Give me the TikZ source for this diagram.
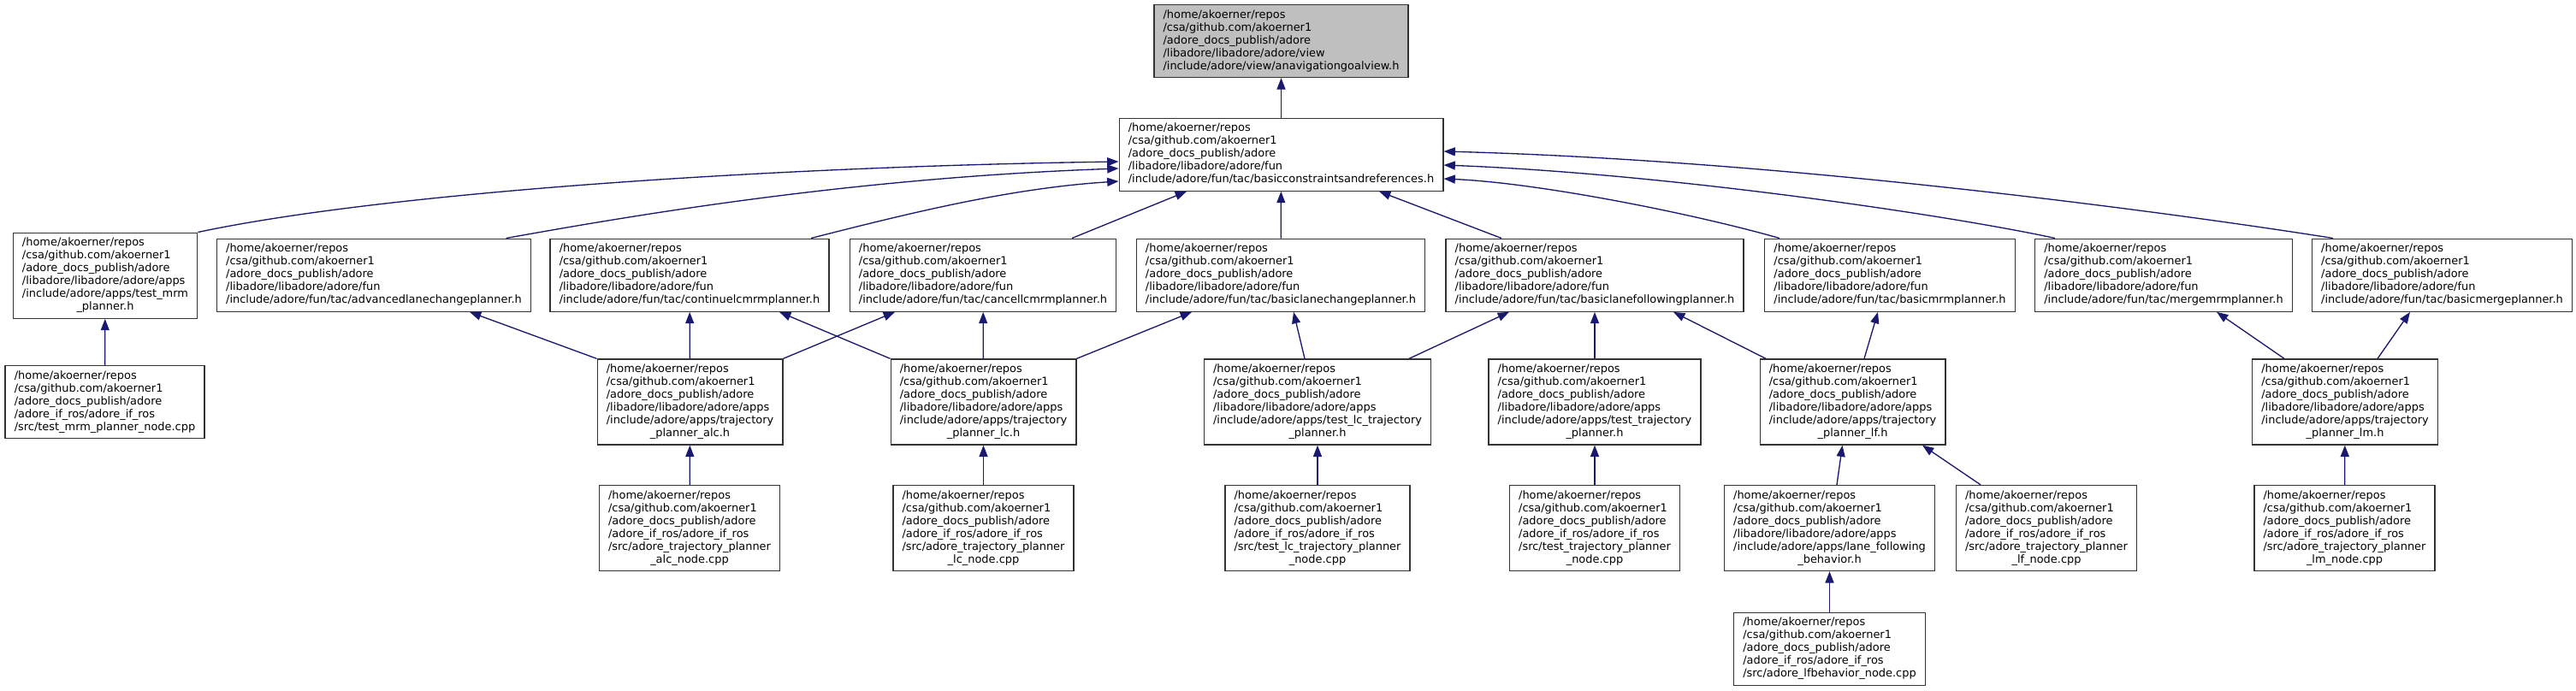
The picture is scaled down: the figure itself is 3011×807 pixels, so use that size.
\documentclass[tikz,border=0pt]{standalone}
\usepackage{fontspec}
\setmainfont{DejaVu Sans}
\usetikzlibrary{arrows.meta}
\definecolor{edgeblue}{HTML}{191970}
\definecolor{rootgray}{HTML}{BFBFBF}
\newcommand{\repohead}{/home/akoerner/repos\\/csa/github.com/akoerner1\\/adore\_docs\_publish/adore}
\newcommand{\fpath}[1]{\begin{tabular}{@{}l@{}}\repohead\\#1\end{tabular}}
\newcommand{\tailline}[1]{\multicolumn{1}{@{}c@{}}{#1}}
\begin{document}
\begin{tikzpicture}[x=0.75pt,y=-0.75pt]

	\tikzset{
	  fbox/.style={
		draw=black!80,
		line width=1pt,
		fill=white,
		inner xsep=8pt,
		inner ysep=3.75pt,
		font=\fontsize{9.7}{11.25}\selectfont,
	  },
	  rootbox/.style={fbox, fill=rootgray},
	  inc/.style={edgeblue, line width=1pt, -{Triangle[length=10pt,width=7.5pt]}},
	}
	\useasboundingbox (0,0) rectangle (3011,807);

	\node[rootbox] (T) at (1497.5,48) {\fpath{/libadore/libadore/adore/view\\/include/adore/view/anavigationgoalview.h}};
	\node[fbox] (B) at (1497.5,180.7) {\fpath{/libadore/libadore/adore/fun\\/include/adore/fun/tac/basicconstraintsandreferences.h}};

	% headers that use it
	\node[fbox] (A1) at (123,322.2) {\fpath{/libadore/libadore/adore/apps\\/include/adore/apps/test\_mrm\\\tailline{\_planner.h}}};
	\node[fbox] (A2) at (437,321.7) {\fpath{/libadore/libadore/adore/fun\\/include/adore/fun/tac/advancedlanechangeplanner.h}};
	\node[fbox] (A3) at (806,321.7) {\fpath{/libadore/libadore/adore/fun\\/include/adore/fun/tac/continuelcmrmplanner.h}};
	\node[fbox] (A4) at (1149,321.7) {\fpath{/libadore/libadore/adore/fun\\/include/adore/fun/tac/cancellcmrmplanner.h}};
	\node[fbox] (A5) at (1497,321.7) {\fpath{/libadore/libadore/adore/fun\\/include/adore/fun/tac/basiclanechangeplanner.h}};
	\node[fbox] (A6) at (1864,321.7) {\fpath{/libadore/libadore/adore/fun\\/include/adore/fun/tac/basiclanefollowingplanner.h}};
	\node[fbox] (A7) at (2209,321.7) {\fpath{/libadore/libadore/adore/fun\\/include/adore/fun/tac/basicmrmplanner.h}};
	\node[fbox] (A8) at (2529,321.7) {\fpath{/libadore/libadore/adore/fun\\/include/adore/fun/tac/mergemrmplanner.h}};
	\node[fbox] (A9) at (2854.5,321.7) {\fpath{/libadore/libadore/adore/fun\\/include/adore/fun/tac/basicmergeplanner.h}};

	\node[fbox] (R1) at (122.5,470) {\fpath{/adore\_if\_ros/adore\_if\_ros\\/src/test\_mrm\_planner\_node.cpp}};
	\node[fbox] (R2) at (806.5,470) {\fpath{/libadore/libadore/adore/apps\\/include/adore/apps/trajectory\\\tailline{\_planner\_alc.h}}};
	\node[fbox] (R3) at (1149.5,470) {\fpath{/libadore/libadore/adore/apps\\/include/adore/apps/trajectory\\\tailline{\_planner\_lc.h}}};
	\node[fbox] (R4) at (1540,470) {\fpath{/libadore/libadore/adore/apps\\/include/adore/apps/test\_lc\_trajectory\\\tailline{\_planner.h}}};
	\node[fbox] (R5) at (1864,470) {\fpath{/libadore/libadore/adore/apps\\/include/adore/apps/test\_trajectory\\\tailline{\_planner.h}}};
	\node[fbox] (R6) at (2165.5,470) {\fpath{/libadore/libadore/adore/apps\\/include/adore/apps/trajectory\\\tailline{\_planner\_lf.h}}};
	\node[fbox] (R7) at (2741,470) {\fpath{/libadore/libadore/adore/apps\\/include/adore/apps/trajectory\\\tailline{\_planner\_lm.h}}};

	\node[fbox] (Q1) at (806,617.5) {\fpath{/adore\_if\_ros/adore\_if\_ros\\/src/adore\_trajectory\_planner\\\tailline{\_alc\_node.cpp}}};
	\node[fbox] (Q2) at (1149.5,617.5) {\fpath{/adore\_if\_ros/adore\_if\_ros\\/src/adore\_trajectory\_planner\\\tailline{\_lc\_node.cpp}}};
	\node[fbox] (Q3) at (1540,617.5) {\fpath{/adore\_if\_ros/adore\_if\_ros\\/src/test\_lc\_trajectory\_planner\\\tailline{\_node.cpp}}};
	\node[fbox] (Q4) at (1864,617.5) {\fpath{/adore\_if\_ros/adore\_if\_ros\\/src/test\_trajectory\_planner\\\tailline{\_node.cpp}}};
	\node[fbox] (Q5) at (2138.5,617.5) {\fpath{/libadore/libadore/adore/apps\\/include/adore/apps/lane\_following\\\tailline{\_behavior.h}}};
	\node[fbox] (Q6) at (2392,617.5) {\fpath{/adore\_if\_ros/adore\_if\_ros\\/src/adore\_trajectory\_planner\\\tailline{\_lf\_node.cpp}}};
	\node[fbox] (Q7) at (2740.5,617.5) {\fpath{/adore\_if\_ros/adore\_if\_ros\\/src/adore\_trajectory\_planner\\\tailline{\_lm\_node.cpp}}};

	\node[fbox] (P1) at (2138.5,758.7) {\fpath{/adore\_if\_ros/adore\_if\_ros\\/src/adore\_lfbehavior\_node.cpp}};

	% include edges
	\draw[inc] (B) -- (T);
	\draw[inc] (A1.north east) .. controls (450,225) and (900,195) .. (B.west |- 0,189);
	\draw[inc] (591.5,0 |- A2.north) .. controls (750,250) and (1000,208) .. (B.west |- 0,197);
	\draw[inc] (948,0 |- A3.north) .. controls (1060,250) and (1180,220) .. (B.west |- 0,212);
	\draw[inc] (1253,0 |- A4.north) -- (1387,0 |- B.south);
	\draw[inc] (A5) -- (B);
	\draw[inc] (1755,0 |- A6.north) -- (1612,0 |- B.south);
	\draw[inc] (2080,0 |- A7.north) .. controls (1980,250) and (1800,214) .. (B.east |- 0,209);
	\draw[inc] (2402,0 |- A8.north) .. controls (2280,252) and (1950,203) .. (B.east |- 0,193);
	\draw[inc] (2727,0 |- A9.north) .. controls (2560,252) and (2100,188) .. (B.east |- 0,177);

	\draw[inc] (R1) -- (A1);
	\draw[inc] (R2.north west) -- (549,0 |- A2.south);
	\draw[inc] (R2) -- (A3);
	\draw[inc] (R2.north east) -- (1046,0 |- A4.south);
	\draw[inc] (R3.north west) -- (911,0 |- A3.south);
	\draw[inc] (R3) -- (A4);
	\draw[inc] (R3.north east) -- (1393,0 |- A5.south);
	\draw[inc] (1525,0 |- R4.north) -- (1512,0 |- A5.south);
	\draw[inc] (1647,0 |- R4.north) -- (1764,0 |- A6.south);
	\draw[inc] (R5) -- (A6);
	\draw[inc] (2064,0 |- R6.north) -- (1956,0 |- A6.south);
	\draw[inc] (2179,0 |- R6.north) -- (2195,0 |- A7.south);
	\draw[inc] (2670,0 |- R7.north) -- (2591,0 |- A8.south);
	\draw[inc] (2779,0 |- R7.north) -- (2817,0 |- A9.south);

	\draw[inc] (Q1) -- (R2);
	\draw[inc] (Q2) -- (R3);
	\draw[inc] (Q3) -- (R4);
	\draw[inc] (Q4) -- (R5);
	\draw[inc] (2147,0 |- Q5.north) -- (2153.5,0 |- R6.south);
	\draw[inc] (2315,0 |- Q6.north) -- (2247,0 |- R6.south);
	\draw[inc] (Q7) -- (R7);
	\draw[inc] (P1) -- (Q5);

\end{tikzpicture}
\end{document}
